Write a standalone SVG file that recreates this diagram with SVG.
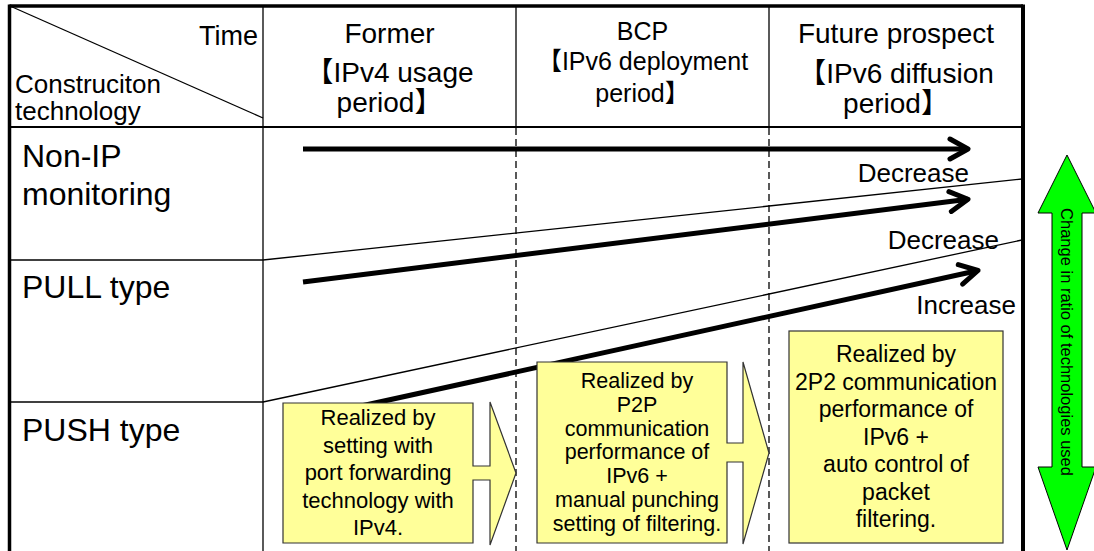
<svg xmlns="http://www.w3.org/2000/svg" width="1094" height="551" viewBox="0 0 1094 551">
<style>
text{font-family:"Liberation Sans","Noto Sans CJK JP",Arial,sans-serif;fill:#000}
.thin{stroke:#000;stroke-width:1.3;fill:none}
.dash{stroke:#000;stroke-width:1.3;stroke-dasharray:7 4;fill:none}
.bold{stroke:#000;stroke-width:5;fill:none}
.box{fill:#FFFF99;stroke:#333;stroke-width:1.2}
.hd{font-size:28px;text-anchor:middle}
.hb{font-size:25px;text-anchor:middle}
.row{font-size:32px}
.lbl{font-size:26px;text-anchor:end}
.b1{font-size:22px;text-anchor:middle}
.b2{font-size:21.5px;text-anchor:middle}
.b3{font-size:23px;text-anchor:middle}
</style>
<defs>
<marker id="chev" markerUnits="userSpaceOnUse" viewBox="-24 -14 30 28" markerWidth="30" markerHeight="28" refX="0" refY="0" orient="auto" overflow="visible">
<path d="M-18,-10 L0,0 L-18,10" fill="none" stroke="#000" stroke-width="5" stroke-linecap="round" stroke-linejoin="round"/>
</marker>
</defs>
<rect width="1094" height="551" fill="#fff"/>
<g id="table">
<line class="thin" x1="10" y1="6" x2="263" y2="118"/>
<line class="thin" x1="263" y1="6" x2="263" y2="551"/>
<line class="thin" x1="516" y1="6" x2="516" y2="127"/>
<line class="thin" x1="769" y1="6" x2="769" y2="127"/>
<line class="dash" x1="516" y1="128" x2="516" y2="551"/>
<line class="dash" x1="769" y1="128" x2="769" y2="551"/>
<line x1="10" y1="127" x2="1023" y2="127" stroke="#000" stroke-width="2"/>
<line class="thin" x1="10" y1="260" x2="263" y2="260"/>
<line class="thin" x1="10" y1="402" x2="263" y2="402"/>
<line class="thin" x1="263" y1="260" x2="1022" y2="179"/>
<line class="thin" x1="263" y1="402" x2="1022" y2="240"/>
<line x1="9.5" y1="6" x2="1023" y2="6" stroke="#000" stroke-width="3.5"/>
<line x1="9.5" y1="4.5" x2="9.5" y2="551" stroke="#000" stroke-width="3.5"/>
<line x1="1023" y1="4.5" x2="1023" y2="551" stroke="#000" stroke-width="4"/>
</g>
<g id="header">
<text x="258" y="45" style="font-size:27px;text-anchor:end">Time</text>
<text x="15" y="93" style="font-size:26px">Construciton</text>
<text x="15" y="120" style="font-size:26px">technology</text>
<text class="hd" x="389.5" y="43">Former</text>
<text class="hd" x="389.5" y="82">【IPv4 usage</text>
<text class="hd" x="389.5" y="112">period】</text>
<text class="hb" x="642.5" y="40">BCP</text>
<text class="hb" x="642.5" y="70">【IPv6 deployment</text>
<text class="hb" x="642.5" y="102">period】</text>
<text class="hd" x="896" y="43">Future prospect</text>
<text class="hd" x="896" y="83">【IPv6 diffusion</text>
<text class="hd" x="896" y="113">period】</text>
</g>
<g id="rows">
<text class="row" x="22" y="167">Non-IP</text>
<text class="row" x="22" y="205">monitoring</text>
<text class="row" x="22" y="298">PULL type</text>
<text class="row" x="22" y="441">PUSH type</text>
</g>
<g id="connectors">
<line class="bold" x1="303" y1="149" x2="968" y2="149" marker-end="url(#chev)"/>
<line class="bold" x1="303" y1="282" x2="968" y2="199.3" marker-end="url(#chev)"/>
<line class="bold" x1="303" y1="418.8" x2="978" y2="270.5" marker-end="url(#chev)"/>
</g>
<g id="labels">
<text class="lbl" x="969" y="182">Decrease</text>
<text class="lbl" x="999" y="249">Decrease</text>
<text class="lbl" x="1016" y="314">Increase</text>
</g>
<g id="box1">
<polygon class="box" points="283,403 473,403 473,466 490,466 490,402 516,473 490,545 490,480 473,480 473,543 283,543"/>
<text class="b1" x="378" y="425">Realized by</text>
<text class="b1" x="378" y="452.5">setting with</text>
<text class="b1" x="378" y="480">port forwarding</text>
<text class="b1" x="378" y="507.5">technology with</text>
<text class="b1" x="378" y="535">IPv4.</text>
</g>
<g id="box2">
<polygon class="box" points="537,362 727,362 727,443 743,443 743,362 769,453 743,544 743,462 727,462 727,543 537,543"/>
<text class="b2" x="637" y="388">Realized by</text>
<text class="b2" x="637" y="412">P2P</text>
<text class="b2" x="637" y="435.5">communication</text>
<text class="b2" x="637" y="459">performance of</text>
<text class="b2" x="637" y="483">IPv6 +</text>
<text class="b2" x="637" y="507">manual punching</text>
<text class="b2" x="637" y="531">setting of filtering.</text>
</g>
<g id="box3">
<rect class="box" x="789" y="331" width="214" height="212"/>
<text class="b3" x="896" y="362">Realized by</text>
<text class="b3" x="896" y="389.5">2P2 communication</text>
<text class="b3" x="896" y="417">performance of</text>
<text class="b3" x="896" y="444.5">IPv6 +</text>
<text class="b3" x="896" y="472">auto control of</text>
<text class="b3" x="896" y="499.5">packet</text>
<text class="b3" x="896" y="527">filtering.</text>
</g>
<g id="ratio">
<polygon points="1067,155 1096,213 1082,213 1082,467 1096,467 1067,550 1038,467 1052,467 1052,213 1038,213" fill="#00FF00" stroke="#000" stroke-width="1"/>
<text transform="translate(1061,342) rotate(90)" style="font-size:16.5px;text-anchor:middle">Change in ratio of technologies used</text>
</g>
</svg>
